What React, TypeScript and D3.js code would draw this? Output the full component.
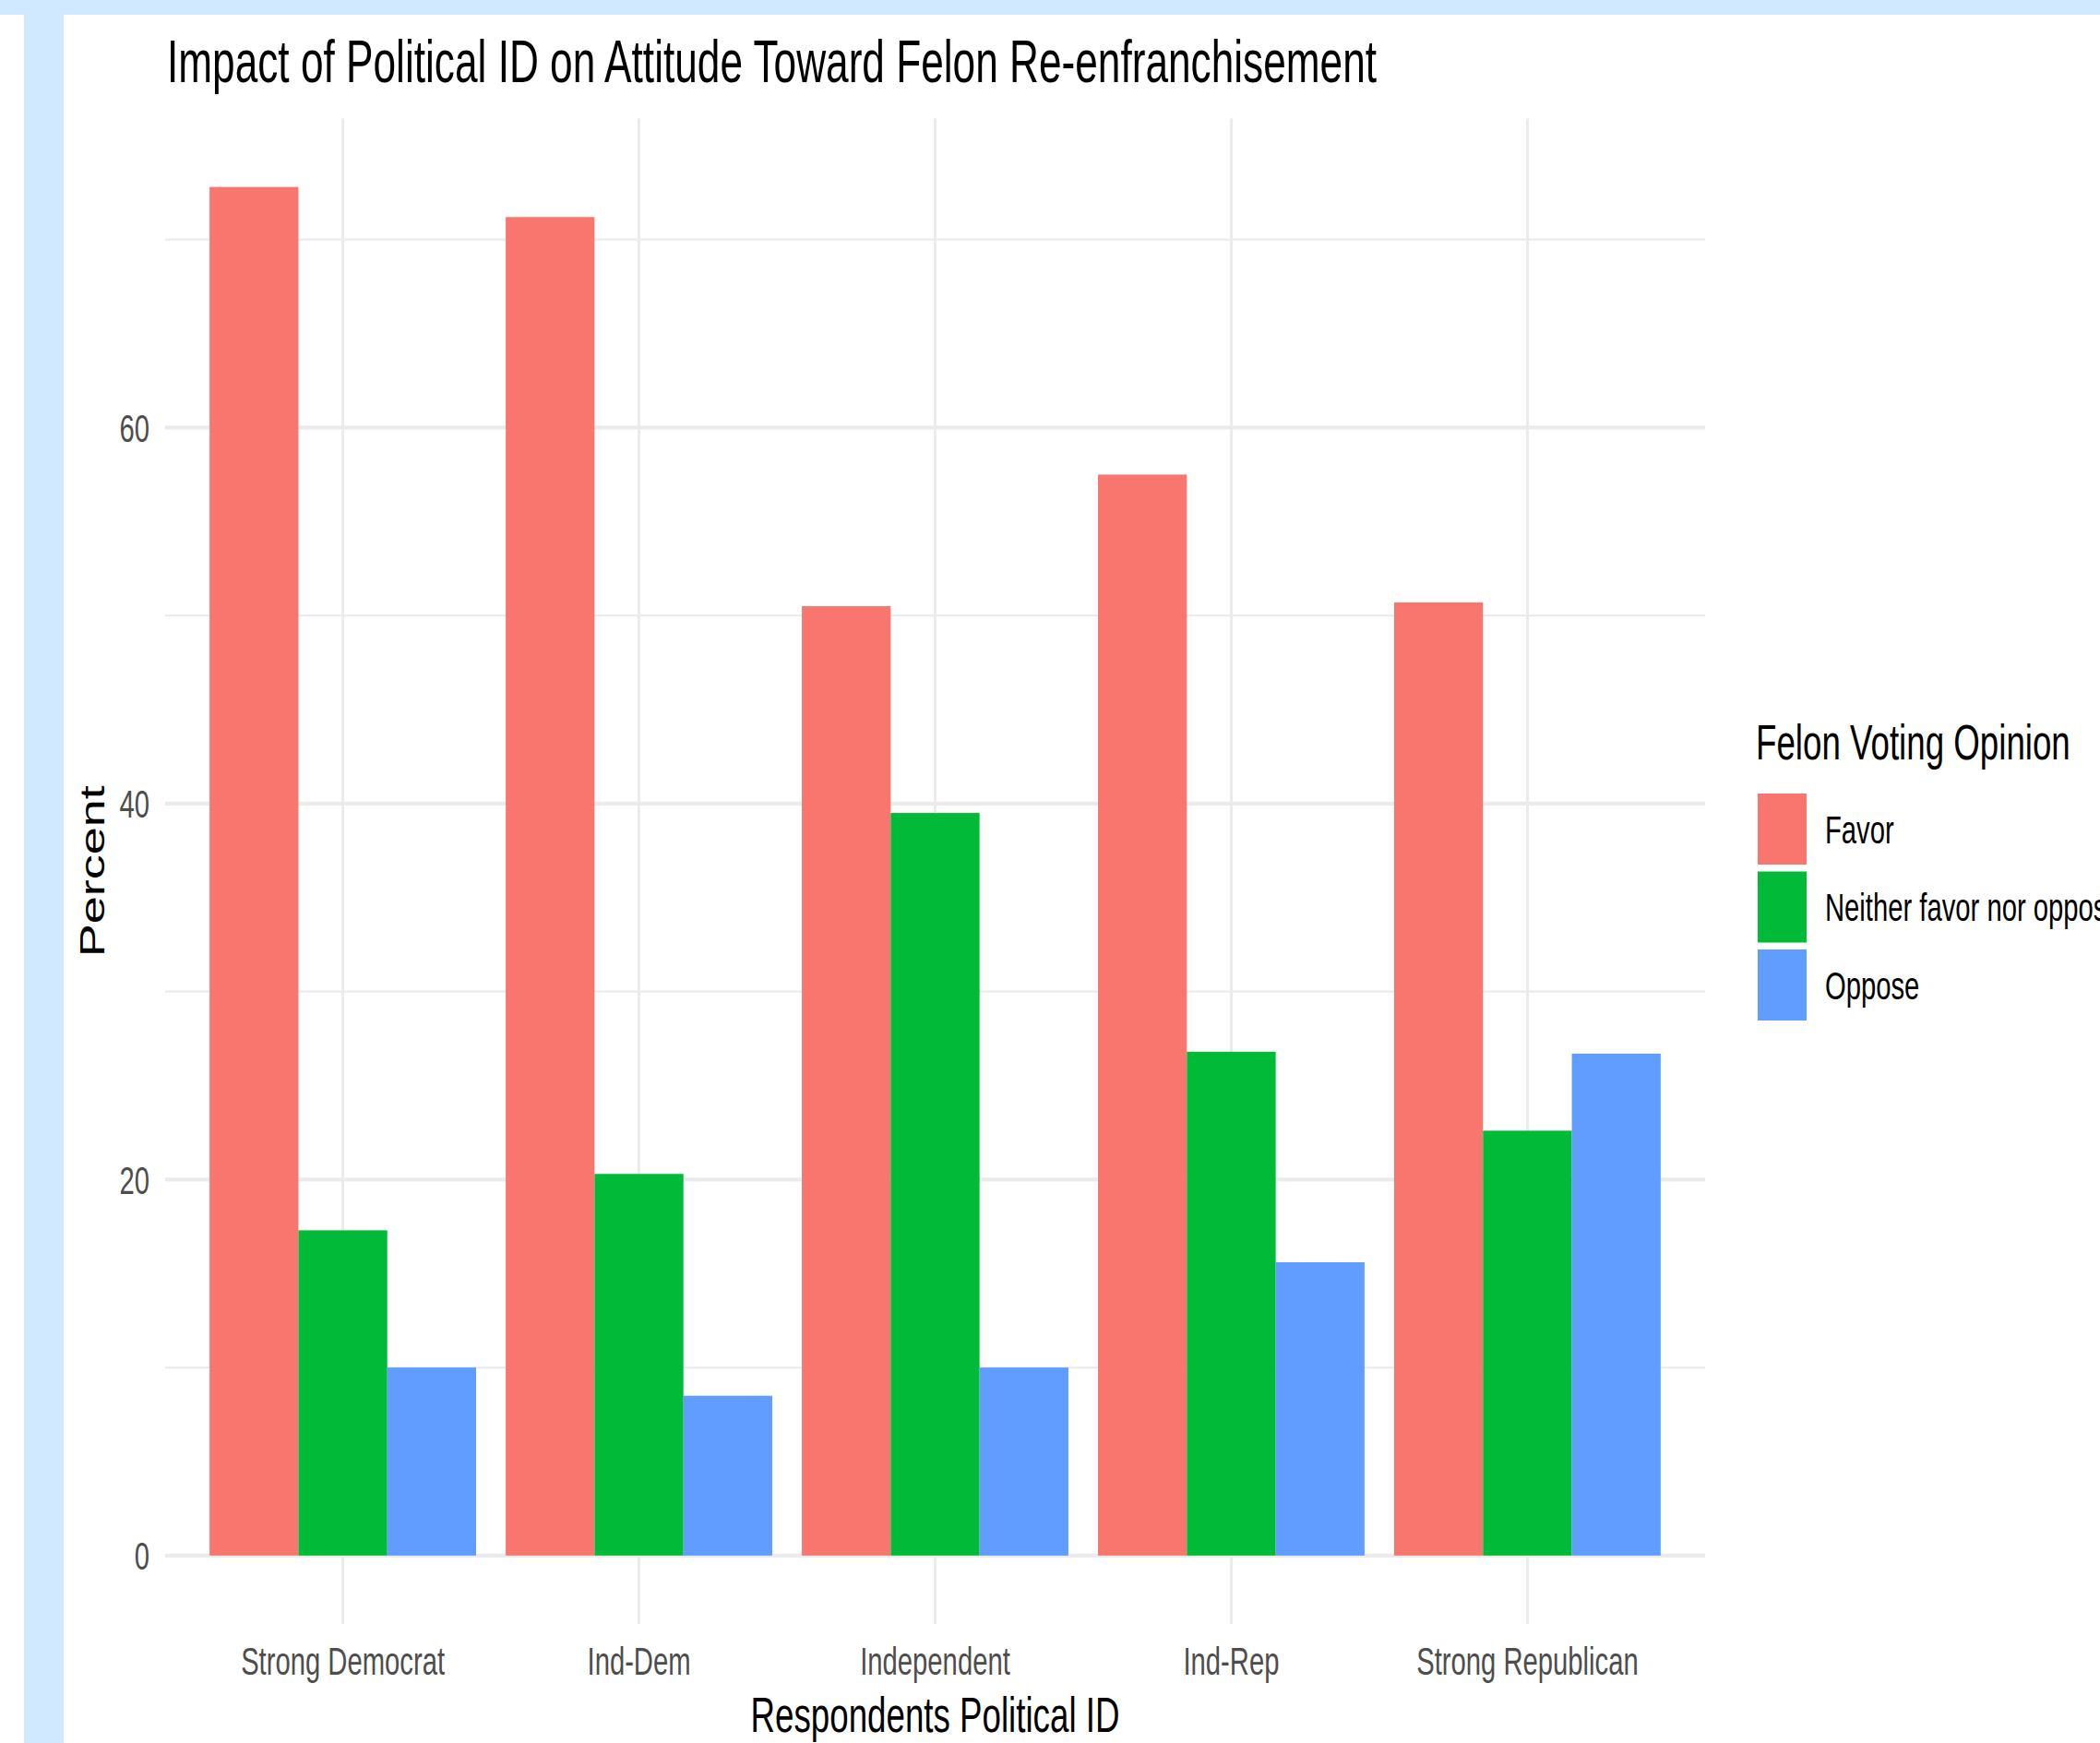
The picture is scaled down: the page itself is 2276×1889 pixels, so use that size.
import { useEffect, useRef } from 'react'
import * as d3 from 'd3'

const W = 2276, H = 1889
const P = { left: 179, right: 1848, top: 128.5, bottom: 1760 }
const SX = 0.68 // the whole figure is squeezed horizontally
const FONT = '"Liberation Sans", Arial, Helvetica, sans-serif'

const categories = ['Strong Democrat', 'Ind-Dem', 'Independent', 'Ind-Rep', 'Strong Republican']
const seriesNames = ['Favor', 'Neither favor nor oppose', 'Oppose']
const favor = [72.8, 71.2, 50.5, 57.5, 50.7]
const neither = [17.3, 20.3, 39.5, 26.8, 22.6]
const oppose = [10.0, 8.5, 10.0, 15.6, 26.7]
const colors = ['#F8766D', '#00BA38', '#619CFF']

export default function App() {
  const svgRef = useRef<SVGSVGElement>(null)

  useEffect(() => {
    const svg = d3.select(svgRef.current!)
    svg.selectAll('*').remove()

    const values = [favor, neither, oppose]
    const rows = categories.map((c, i) => ({
      cat: c,
      vals: seriesNames.map((s, j) => ({ s, v: values[j][i], color: colors[j] })),
    }))

    svg.append('rect').attr('width', W).attr('height', H).attr('fill', '#ffffff')
    // light blue page frame from the screenshot
    svg.append('rect').attr('x', 0).attr('y', 0).attr('width', W).attr('height', 16).attr('fill', '#D1E9FE')
    svg.append('rect').attr('x', 26).attr('y', 0).attr('width', 43).attr('height', H).attr('fill', '#D1E9FE')

    const x = d3.scaleBand<string>().domain(categories)
      .range([P.left, P.right]).paddingInner(0.1).paddingOuter(0.15)
    const xs = d3.scaleBand<string>().domain(seriesNames).range([0, x.bandwidth()])

    const yMax = d3.max(values.flat())!
    const ex = yMax * 0.05
    const y = d3.scaleLinear().domain([-ex, yMax + ex]).range([P.bottom, P.top])

    const major = y.ticks(4)
    const minor = y.ticks(8).filter(t => !major.includes(t))

    const text = (px: number, py: number, str: string, size: number, fill: string, anchor: string) =>
      svg.append('text')
        .attr('transform', `translate(${px},${py}) scale(${SX},1)`)
        .attr('font-family', FONT).attr('font-size', size)
        .attr('fill', fill).attr('text-anchor', anchor).text(str)

    // grid
    minor.forEach(t => {
      svg.append('line').attr('x1', P.left).attr('x2', P.right)
        .attr('y1', y(t)).attr('y2', y(t))
        .attr('stroke', '#EBEBEB').attr('stroke-width', 2.2)
    })
    major.forEach(t => {
      svg.append('line').attr('x1', P.left).attr('x2', P.right)
        .attr('y1', y(t)).attr('y2', y(t))
        .attr('stroke', '#EBEBEB').attr('stroke-width', 4.2)
    })
    categories.forEach(c => {
      const cx = x(c)! + x.bandwidth() / 2
      svg.append('line').attr('x1', cx).attr('x2', cx)
        .attr('y1', P.top).attr('y2', P.bottom)
        .attr('stroke', '#EBEBEB').attr('stroke-width', 3)
    })

    // bars
    rows.forEach(r => {
      const g = svg.append('g').attr('transform', `translate(${x(r.cat)},0)`)
      g.selectAll('rect').data(r.vals).join('rect')
        .attr('x', d => xs(d.s)!)
        .attr('width', xs.bandwidth())
        .attr('y', d => y(d.v))
        .attr('height', d => y(0) - y(d.v))
        .attr('fill', d => d.color)
    })

    // y tick labels
    major.forEach(t => {
      text(162, y(t), String(t), 43, '#4D4D4D', 'end').attr('dy', '0.36em')
    })
    // x tick labels
    categories.forEach(c => {
      text(x(c)! + x.bandwidth() / 2, 1815, c, 43, '#4D4D4D', 'middle')
    })

    // titles
    text(181, 89, 'Impact of Political ID on Attitude Toward Felon Re-enfranchisement', 65, '#000', 'start')
    text((P.left + P.right) / 2, 1877, 'Respondents Political ID', 54, '#000', 'middle')
    svg.append('text')
      .attr('transform', `translate(113,${(P.top + P.bottom) / 2}) scale(${SX},1) rotate(-90)`)
      .attr('font-family', FONT).attr('font-size', 54)
      .attr('fill', '#000').attr('text-anchor', 'middle').text('Percent')

    // legend
    const lx = 1905, ly = 860, keyW = 53, keyH = 77, step = 84.5
    text(1903, 823, 'Felon Voting Opinion', 54, '#000', 'start')
    seriesNames.forEach((s, i) => {
      svg.append('rect').attr('x', lx).attr('y', ly + i * step)
        .attr('width', keyW).attr('height', keyH).attr('fill', colors[i])
      text(1978, ly + i * step + keyH / 2, s, 43, '#000', 'start').attr('dy', '0.36em')
    })
  }, [])

  return (
    <svg ref={svgRef} width={W} height={H} viewBox={`0 0 ${W} ${H}`}
      style={{ position: 'absolute', left: 0, top: 0, display: 'block' }} />
  )
}
